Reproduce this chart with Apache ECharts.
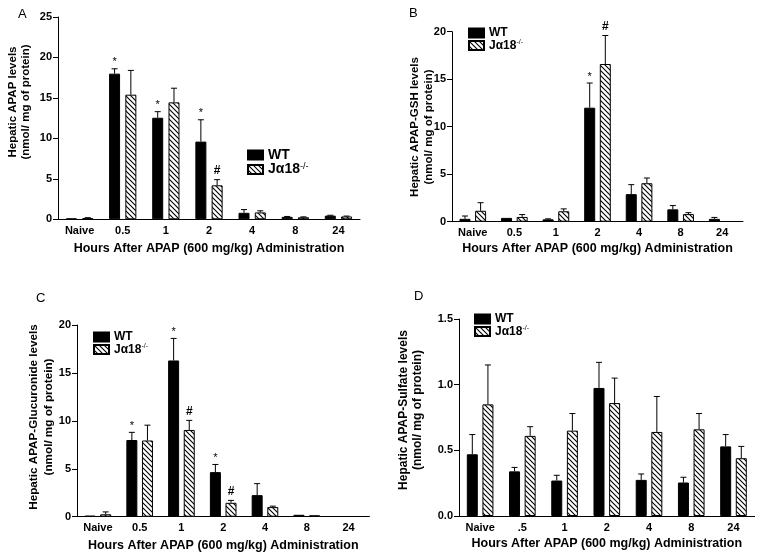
<!DOCTYPE html>
<html><head><meta charset="utf-8">
<script src="https://cdn.jsdelivr.net/npm/echarts@6/dist/echarts.min.js"></script>
<style>html,body{margin:0;padding:0;background:#fff}#c{width:764px;height:559px}</style>
</head><body><div id="c"></div>
<script>
// ---------- data ----------
const categories = ['Naive', '0.5', '1', '2', '4', '8', '24'];
const categoriesD = ['Naive', '.5', '1', '2', '4', '8', '24'];
const seriesNames = ['WT', 'Jα18-/-'];
const xTitle = 'Hours After APAP (600 mg/kg) Administration';

// A: Hepatic APAP
const aWT = [0.1, 18.0, 12.55, 9.6, 0.8, 0.3, 0.45];
const aWTerr = [0, 0.6, 0.75, 2.7, 0.4, 0.05, 0.05];
const aKO = [0.15, 15.4, 14.45, 4.2, 0.85, 0.25, 0.35];
const aKOerr = [0.05, 3.0, 1.75, 0.7, 0.2, 0.05, 0.05];
const aWTsig = ['', '*', '*', '*', '', '', ''];
const aKOsig = ['', '', '', '#', '', '', ''];
const aTicks = [0, 25, 5];

// B: Hepatic APAP-GSH
const bWT = [0.3, 0.4, 0.25, 12.0, 2.9, 1.3, 0.3];
const bWTerr = [0.3, 0, 0.05, 2.6, 1.0, 0.4, 0.15];
const bKO = [1.15, 0.5, 1.1, 16.6, 4.05, 0.8, null];
const bKOerr = [0.85, 0.25, 0.25, 3.0, 0.55, 0.15, 0];
const bWTsig = ['', '', '', '*', '', '', ''];
const bKOsig = ['', '', '', '#', '', '', ''];
const bTicks = [0, 20, 5];

// C: Hepatic APAP-Glucuronide
const cWT = [0.1, 8.0, 16.3, 4.65, 2.25, 0.2, null];
const cWTerr = [0, 0.8, 2.3, 0.8, 1.2, 0, 0];
const cKO = [0.25, 7.95, 9.05, 1.45, 1.0, 0.15, null];
const cKOerr = [0.25, 1.6, 1.0, 0.25, 0.1, 0, 0];
const cWTsig = ['', '*', '*', '*', '', '', ''];
const cKOsig = ['', '', '#', '#', '', '', ''];
const cTicks = [0, 20, 5];

// D: Hepatic APAP-Sulfate
const dWT = [0.47, 0.34, 0.27, 0.975, 0.275, 0.255, 0.53];
const dWTerr = [0.15, 0.03, 0.04, 0.195, 0.045, 0.04, 0.09];
const dKO = [0.85, 0.61, 0.65, 0.86, 0.64, 0.66, 0.44];
const dKOerr = [0.3, 0.07, 0.13, 0.19, 0.27, 0.12, 0.09];
const dTicks = [0, 1.5, 0.5];

const yTitles = [
  'Hepatic APAP levels\n(nmol/ mg of protein)',
  'Hepatic APAP-GSH levels\n(nmol/ mg of protein)',
  'Hepatic APAP-Glucuronide levels\n(nmol/ mg of protein)',
  'Hepatic APAP-Sulfate levels\n(nmol/ mg of protein)'
];
const panelLetters = ['A', 'B', 'C', 'D'];

// ---------- styling / layout ----------
const FONT = '"Liberation Sans", Arial, sans-serif';
const BW = 11;
const panels = [
  {grid: {left: 58, top: 17, width: 302, height: 202.3}, cats: categories, wt: aWT, wte: aWTerr, ko: aKO, koe: aKOerr, ws: aWTsig, ks: aKOsig, ticks: aTicks, gap: 0.48, dec: 0, nameGap: 23,
   legend: {left: 247, top: 148, fs: 14}, ytitle: {x: 19.5, y: 102, lh: 13.5, fs: 11.5}, letter: {x: 18, y: 8}},
  {grid: {left: 452, top: 31.7, width: 291, height: 190}, cats: categories, wt: bWT, wte: bWTerr, ko: bKO, koe: bKOerr, ws: bWTsig, ks: bKOsig, ticks: bTicks, gap: 0.42, dec: 0, nameGap: 20.5,
   legend: {left: 468, top: 27, fs: 12}, ytitle: {x: 422, y: 127, lh: 13.5, fs: 11.5}, letter: {x: 409, y: 7}},
  {grid: {left: 77, top: 325, width: 292.4, height: 191.7}, cats: categories, wt: cWT, wte: cWTerr, ko: cKO, koe: cKOerr, ws: cWTsig, ks: cKOsig, ticks: cTicks, gap: 0.42, dec: 0, nameGap: 22,
   legend: {left: 93, top: 331, fs: 12}, ytitle: {x: 41, y: 417, lh: 15, fs: 11.7}, letter: {x: 36, y: 292}},
  {grid: {left: 459, top: 319, width: 295.6, height: 197}, cats: categoriesD, wt: dWT, wte: dWTerr, ko: dKO, koe: dKOerr, ws: null, ks: null, ticks: dTicks, gap: 0.42, dec: 1, nameGap: 21,
   legend: {left: 474, top: 313, fs: 12}, ytitle: {x: 410.5, y: 410, lh: 13.5, fs: 12}, letter: {x: 414, y: 290}}
];

function hatchCanvas() {
  const n = 5;
  const c = document.createElement('canvas');
  c.width = n; c.height = n;
  const g = c.getContext('2d');
  g.fillStyle = '#fff'; g.fillRect(0, 0, n, n);
  g.strokeStyle = '#000'; g.lineWidth = 1.1;
  g.beginPath();
  g.moveTo(-1, -1); g.lineTo(n + 1, n + 1);
  g.moveTo(-1, n - 1); g.lineTo(1, n + 1);
  g.moveTo(n - 1, -1); g.lineTo(n + 1, 1);
  g.stroke();
  return c;
}
const hatch = {image: hatchCanvas(), repeat: 'repeat'};

function errRender(vals, errs, sigs, side, gap) {
  return function (params, api) {
    const i = params.dataIndex;
    const v = vals[i];
    const e = errs[i] || 0;
    if (v == null) return null;
    const p0 = api.coord([i, v]);
    const p1 = api.coord([i, v + e]);
    const x = p0[0] + side * (BW * (1 + gap)) / 2;
    const children = [];
    if (e > 0) {
      children.push({type: 'line', shape: {x1: x, y1: p0[1], x2: x, y2: p1[1]}, style: {stroke: '#000', lineWidth: 1}});
      children.push({type: 'line', shape: {x1: x - 3, y1: p1[1], x2: x + 3, y2: p1[1]}, style: {stroke: '#000', lineWidth: 1}});
    }
    const s = sigs && sigs[i];
    if (s) {
      children.push({type: 'text', x: x, y: p1[1] - (s === '*' ? 1 : 3),
        style: {text: s, fill: '#000', font: (s === '*' ? '11px ' : 'bold 12px ') + FONT, align: 'center', verticalAlign: 'bottom'}});
    }
    return {type: 'group', children: children};
  };
}

const grids = [], xAxes = [], yAxes = [], series = [], legends = [], graphics = [];
panels.forEach(function (p, k) {
  grids.push(Object.assign({}, p.grid));
  xAxes.push({
    type: 'category', gridIndex: k, data: p.cats,
    axisLine: {lineStyle: {color: '#000', width: 1}},
    axisTick: {alignWithLabel: true, length: 4, lineStyle: {color: '#000'}},
    axisLabel: {color: '#000', fontWeight: 'bold', fontSize: 11, fontFamily: FONT, margin: 6},
    name: xTitle, nameLocation: 'middle', nameGap: p.nameGap,
    nameTextStyle: {color: '#000', fontWeight: 'bold', fontSize: 12.5, fontFamily: FONT}
  });
  yAxes.push({
    type: 'value', gridIndex: k, min: p.ticks[0], max: p.ticks[1], interval: p.ticks[2],
    axisLine: {show: true, lineStyle: {color: '#000', width: 1}},
    axisTick: {show: true, length: 5, lineStyle: {color: '#000'}},
    splitLine: {show: false},
    axisLabel: {color: '#000', fontWeight: 'bold', fontSize: 11, fontFamily: FONT, margin: 6,
      formatter: function (v) { return v.toFixed(p.dec); }}
  });
  series.push({
    name: seriesNames[0], type: 'bar', xAxisIndex: k, yAxisIndex: k, data: p.wt,
    barWidth: BW, barGap: (p.gap * 100) + '%',
    itemStyle: {color: '#000', borderColor: '#000', borderWidth: 1}
  });
  series.push({
    name: seriesNames[1], type: 'bar', xAxisIndex: k, yAxisIndex: k, data: p.ko,
    barWidth: BW, barGap: (p.gap * 100) + '%',
    itemStyle: {color: hatch, borderColor: '#000', borderWidth: 1}
  });
  series.push({
    type: 'custom', xAxisIndex: k, yAxisIndex: k, silent: true, z: 5,
    data: p.wt.map(function (v, i) { return [i, v == null ? 0 : v]; }),
    renderItem: errRender(p.wt, p.wte, p.ws, -1, p.gap)
  });
  series.push({
    type: 'custom', xAxisIndex: k, yAxisIndex: k, silent: true, z: 5,
    data: p.ko.map(function (v, i) { return [i, v == null ? 0 : v]; }),
    renderItem: errRender(p.ko, p.koe, p.ks, 1, p.gap)
  });
  const fs = p.legend.fs;
  legends.push({
    orient: 'vertical', left: p.legend.left, top: p.legend.top, data: seriesNames, padding: 0,
    icon: 'rect', itemWidth: 15, itemHeight: 9, itemGap: 0, selectedMode: false,
    formatter: function (name) { return name === 'WT' ? '{b|WT}' : '{b|Jα18}{s|-/-}'; },
    textStyle: {color: '#000', fontFamily: FONT,
      rich: {
        b: {fontSize: fs, fontWeight: 'bold', fontFamily: FONT, color: '#000', lineHeight: fs + 1},
        s: {fontSize: Math.round(fs * 0.62), fontFamily: FONT, color: '#000', verticalAlign: 'top', lineHeight: fs + 1}
      }}
  });
  graphics.push({
    type: 'text', x: p.ytitle.x, y: p.ytitle.y, rotation: Math.PI / 2,
    style: {text: yTitles[k], fill: '#000', font: 'bold ' + p.ytitle.fs + 'px ' + FONT, align: 'center', verticalAlign: 'middle', lineHeight: p.ytitle.lh}
  });
  graphics.push({
    type: 'text', x: p.letter.x, y: p.letter.y,
    style: {text: panelLetters[k], fill: '#000', font: '13px ' + FONT, align: 'left', verticalAlign: 'top'}
  });
});

const chart = echarts.init(document.getElementById('c'), null, {renderer: 'canvas'});
chart.setOption({
  animation: false,
  backgroundColor: '#fff',
  grid: grids, xAxis: xAxes, yAxis: yAxes, series: series, legend: legends,
  graphic: graphics
});
</script>
</body></html>
